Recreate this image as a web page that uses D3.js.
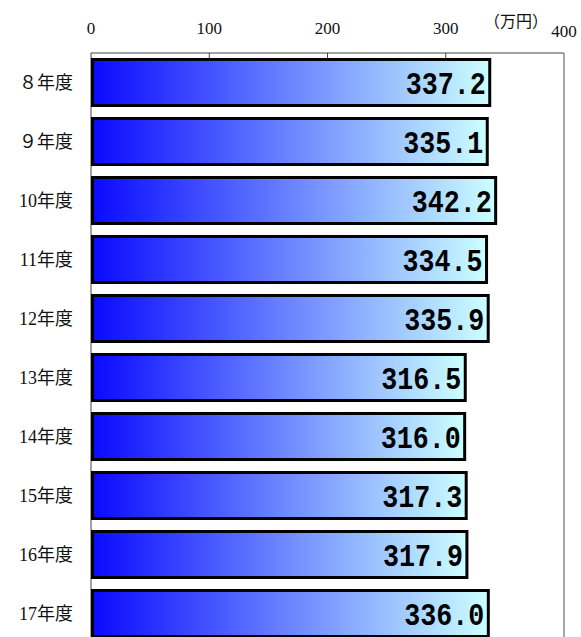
<!DOCTYPE html>
<html>
<head>
<meta charset="utf-8">
<script src="https://cdn.jsdelivr.net/npm/d3@7"></script>
<style>
  body { margin: 0; background: #fff; }
</style>
</head>
<body>
<div id="chart"></div>
<script>
const years = ["８年度", "９年度", "10年度", "11年度", "12年度", "13年度", "14年度", "15年度", "16年度", "17年度"];
const values = [337.2, 335.1, 342.2, 334.5, 335.9, 316.5, 316.0, 317.3, 317.9, 336.0];
const tickValues = [0, 100, 200, 300, 400];
const unitLabel = "（万円）";

const width = 581;
const height = 637;
const margin = { top: 53, left: 91, right: 17 };

const svg = d3.select("#chart")
    .append("svg")
    .attr("width", width)
    .attr("height", height);

const x = d3.scaleLinear()
    .domain([0, 400])
    .range([margin.left, width - margin.right]);

const y = d3.scaleBand()
    .domain(years)
    .range([margin.top, margin.top + 59 * years.length])
    .paddingInner(0.22)
    .paddingOuter(0.11);

const defs = svg.append("defs");
const grad = defs.append("linearGradient")
    .attr("id", "barGrad")
    .attr("x1", "0%").attr("x2", "100%")
    .attr("y1", "0%").attr("y2", "0%");
grad.append("stop").attr("offset", "0%").attr("stop-color", "#0a0aff");
grad.append("stop").attr("offset", "100%").attr("stop-color", "#ccffff");

// plot frame
svg.append("line")
    .attr("x1", x(0)).attr("x2", x(400))
    .attr("y1", margin.top).attr("y2", margin.top)
    .attr("stroke", "#444").attr("stroke-width", 1);
svg.append("line")
    .attr("x1", x(400)).attr("x2", x(400))
    .attr("y1", margin.top).attr("y2", height)
    .attr("stroke", "#888").attr("stroke-width", 1.5);
svg.append("line")
    .attr("x1", x(0)).attr("x2", x(0))
    .attr("y1", margin.top).attr("y2", height)
    .attr("stroke", "#444").attr("stroke-width", 1);

// tick marks inside the top edge
svg.selectAll(".tick-mark")
    .data(tickValues.slice(1, -1))
    .enter()
    .append("line")
    .attr("class", "tick-mark")
    .attr("x1", d => x(d)).attr("x2", d => x(d))
    .attr("y1", margin.top).attr("y2", margin.top + 7)
    .attr("stroke", "#444");

// tick labels
svg.selectAll(".tick-label")
    .data(tickValues)
    .enter()
    .append("text")
    .attr("class", "tick-label")
    .attr("x", d => x(d))
    .attr("y", d => d === 400 ? 37 : 34)
    .attr("text-anchor", "middle")
    .style("font-family", "'Liberation Serif', 'DejaVu Serif', serif")
    .style("font-size", "17px")
    .attr("fill", "#111")
    .text(d => d);

svg.append("text")
    .attr("x", x(400) - 16)
    .attr("y", 27)
    .attr("text-anchor", "end")
    .style("font-family", "'Noto Sans CJK JP', sans-serif")
    .style("font-size", "16px")
    .attr("fill", "#111")
    .text(unitLabel);

// bars
svg.selectAll(".bar")
    .data(values)
    .enter()
    .append("rect")
    .attr("class", "bar")
    .attr("x", x(0) + 1.5)
    .attr("y", (d, i) => y(years[i]))
    .attr("width", d => x(d) - x(0) - 1.5)
    .attr("height", y.bandwidth())
    .attr("fill", "url(#barGrad)")
    .attr("stroke", "#000")
    .attr("stroke-width", 3);

// value labels
svg.selectAll(".value")
    .data(values)
    .enter()
    .append("text")
    .attr("class", "value")
    .attr("x", d => x(d) - 4)
    .attr("y", (d, i) => y(years[i]) + y.bandwidth() / 2 + 11)
    .attr("text-anchor", "end")
    .attr("textLength", 80)
    .attr("lengthAdjust", "spacingAndGlyphs")
    .style("font-family", "'Liberation Mono', monospace")
    .style("font-weight", "bold")
    .style("font-size", "31px")
    .attr("fill", "#000")
    .text(d => d.toFixed(1));

// category labels
svg.selectAll(".year")
    .data(years)
    .enter()
    .append("text")
    .attr("class", "year")
    .attr("x", 73)
    .attr("y", d => y(d) + y.bandwidth() / 2 + 6)
    .attr("text-anchor", "end")
    .style("font-family", "'Liberation Serif', 'Noto Sans CJK JP', serif")
    .style("font-size", "18px")
    .attr("fill", "#111")
    .text(d => d);
</script>
</body>
</html>
